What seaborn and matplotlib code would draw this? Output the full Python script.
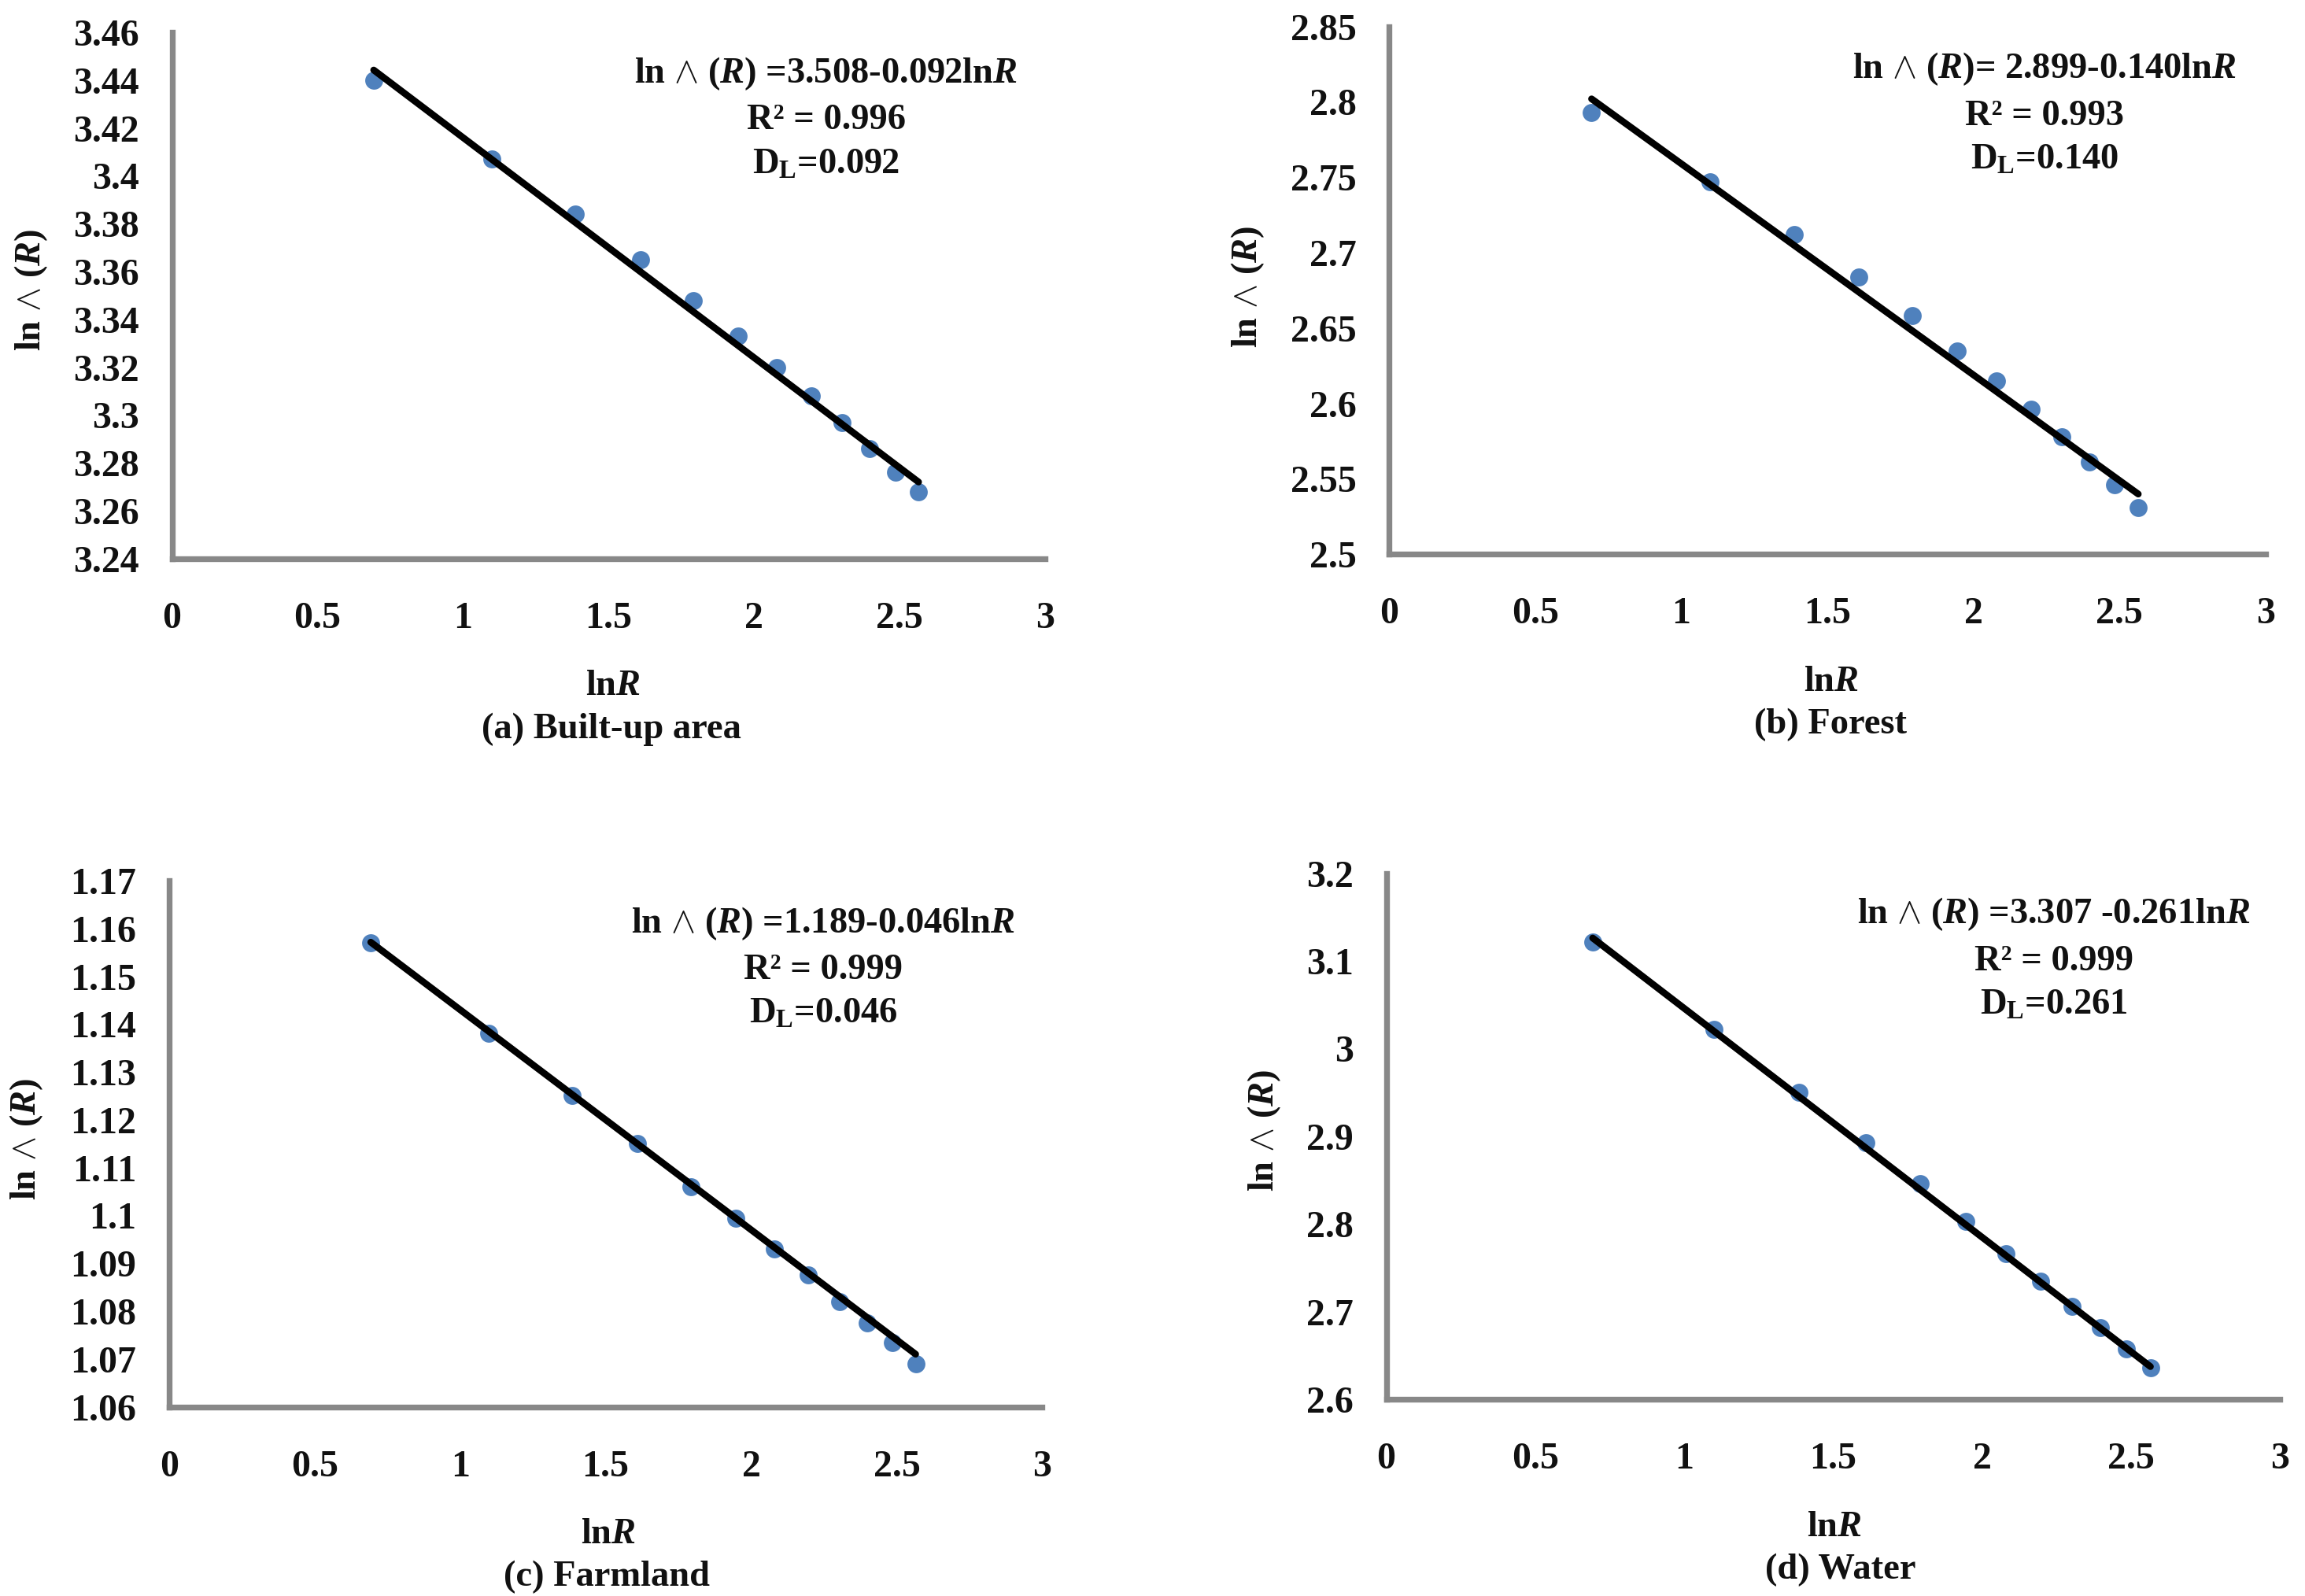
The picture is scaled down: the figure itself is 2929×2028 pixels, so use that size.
import matplotlib
matplotlib.use("Agg")
import matplotlib.pyplot as plt
import numpy as np
import pandas as pd
import seaborn as sns

ln_r = [0.693, 1.099, 1.386, 1.609, 1.792, 1.946, 2.079, 2.197, 2.303, 2.398, 2.485, 2.565]
built_up = [3.440, 3.407, 3.384, 3.365, 3.348, 3.333, 3.320, 3.308, 3.297, 3.286, 3.276, 3.268]
forest = [2.793, 2.747, 2.712, 2.684, 2.658, 2.635, 2.615, 2.596, 2.578, 2.561, 2.546, 2.531]
farmland = [1.157, 1.138, 1.125, 1.115, 1.106, 1.0995, 1.093, 1.0875, 1.082, 1.0775, 1.0735, 1.069]
water = [3.122, 3.022, 2.950, 2.893, 2.846, 2.803, 2.766, 2.735, 2.706, 2.682, 2.658, 2.636]

coef_a = (3.508, -0.092)
coef_b = (2.899, -0.140)
coef_c = (1.189, -0.046)
coef_d = (3.307, -0.261)

x_ticks = [0, 0.5, 1, 1.5, 2, 2.5, 3]
y_ticks_a = [3.24, 3.26, 3.28, 3.30, 3.32, 3.34, 3.36, 3.38, 3.40, 3.42, 3.44, 3.46]
y_ticks_b = [2.5, 2.55, 2.6, 2.65, 2.7, 2.75, 2.8, 2.85]
y_ticks_c = [1.06, 1.07, 1.08, 1.09, 1.10, 1.11, 1.12, 1.13, 1.14, 1.15, 1.16, 1.17]
y_ticks_d = [2.6, 2.7, 2.8, 2.9, 3.0, 3.1, 3.2]

LAM = "ln $\\wedge$ ($\\mathit{R}$)"
eq_a = LAM + " =3.508-0.092ln$\\mathit{R}$"
eq_b = LAM + "= 2.899-0.140ln$\\mathit{R}$"
eq_c = LAM + " =1.189-0.046ln$\\mathit{R}$"
eq_d = LAM + " =3.307 -0.261ln$\\mathit{R}$"
r2_a, r2_b, r2_c, r2_d = "R² = 0.996", "R² = 0.993", "R² = 0.999", "R² = 0.999"
dl_a, dl_b, dl_c, dl_d = "0.092", "0.140", "0.046", "0.261"
cap_a, cap_b, cap_c, cap_d = "(a) Built-up area", "(b) Forest", "(c) Farmland", "(d) Water"

W, H = 2929, 2028
S = 2929 / 1568
sns.set_theme(style="white")
FONT = ["Liberation Serif", "DejaVu Serif"]
plt.rcParams["font.family"] = FONT
plt.rcParams["font.weight"] = "bold"
plt.rcParams["mathtext.fontset"] = "custom"
plt.rcParams["mathtext.rm"] = "Liberation Serif:bold"
plt.rcParams["mathtext.it"] = "Liberation Serif:italic:bold"
plt.rcParams["mathtext.bf"] = "Liberation Serif:bold"

fig = plt.figure(figsize=(W / 100, H / 100), dpi=100, facecolor="white")
GRAY = "#888888"
BLUE = "#4F81BD"
FS = 33.5
TICK_FS = 34.5
INK = "#111111"


def put(x, y, s, size=FS, **kw):
    fig.text(x * S / W, 1 - y * S / H, s, ha="center", va="center", fontsize=size,
             fontweight="bold", color=INK, **kw)


def panel(box, values, coef, yticks, eq, r2, dl, cap, eq_xy, lab_xy, cap_xy, yl_xy):
    left, right, top, bottom = box
    ax = fig.add_axes([left * S / W, 1 - bottom * S / H,
                       (right - left) * S / W, (bottom - top) * S / H])
    df = pd.DataFrame({"x": ln_r, "y": values})
    df["fit"] = coef[0] + coef[1] * df["x"]
    sns.scatterplot(data=df, x="x", y="y", ax=ax, color=BLUE, s=270, linewidth=0, zorder=2, clip_on=False)
    sns.lineplot(data=df, x="x", y="fit", ax=ax, color="black", linewidth=6.2, zorder=3)
    ax.set_xlim(0, 3)
    ax.set_ylim(yticks[0], yticks[-1])
    ax.set_xticks(x_ticks)
    ax.set_xticklabels([f"{t:g}" for t in x_ticks])
    ax.set_yticks(yticks)
    ax.set_yticklabels([f"{t:g}" for t in yticks])
    ax.set_xlabel("")
    ax.set_ylabel("")
    ax.grid(False)
    ax.tick_params(axis="x", length=0, pad=39, labelsize=TICK_FS, labelcolor=INK)
    ax.tick_params(axis="y", length=0, pad=30, labelsize=TICK_FS, labelcolor=INK)
    sns.despine(ax=ax)
    for side in ("left", "bottom"):
        ax.spines[side].set_color(GRAY)
        ax.spines[side].set_linewidth(5.3)
    put(eq_xy[0], eq_xy[1], eq)
    put(eq_xy[0], eq_xy[1] + 32, r2)
    put(eq_xy[0], eq_xy[1] + 62, "D$_{\\mathrm{L}}$=" + dl)
    put(lab_xy[0], lab_xy[1] + 3, "ln$\\mathit{R}$")
    put(cap_xy[0], cap_xy[1] + 3, cap)
    put(yl_xy[0], yl_xy[1], LAM, rotation=90)


panel((117, 711, 22, 380), built_up, coef_a, y_ticks_a, eq_a, r2_a, dl_a, cap_a,
      (562, 50), (417, 464), (416, 493), (21, 197))
panel((945, 1541, 18, 377), forest, coef_b, y_ticks_b, eq_b, r2_b, dl_b, cap_b,
      (1391, 47), (1246, 461), (1245, 490), (849, 195))
panel((115, 709, 599, 957), farmland, coef_c, y_ticks_c, eq_c, r2_c, dl_c, cap_c,
      (560, 628), (414, 1041), (413, 1070), (18, 775))
panel((943, 1551, 594, 952), water, coef_d, y_ticks_d, eq_d, r2_d, dl_d, cap_d,
      (1397, 622), (1248, 1036), (1252, 1065), (860, 769))

fig.savefig("out.png", dpi=100, facecolor="white")
